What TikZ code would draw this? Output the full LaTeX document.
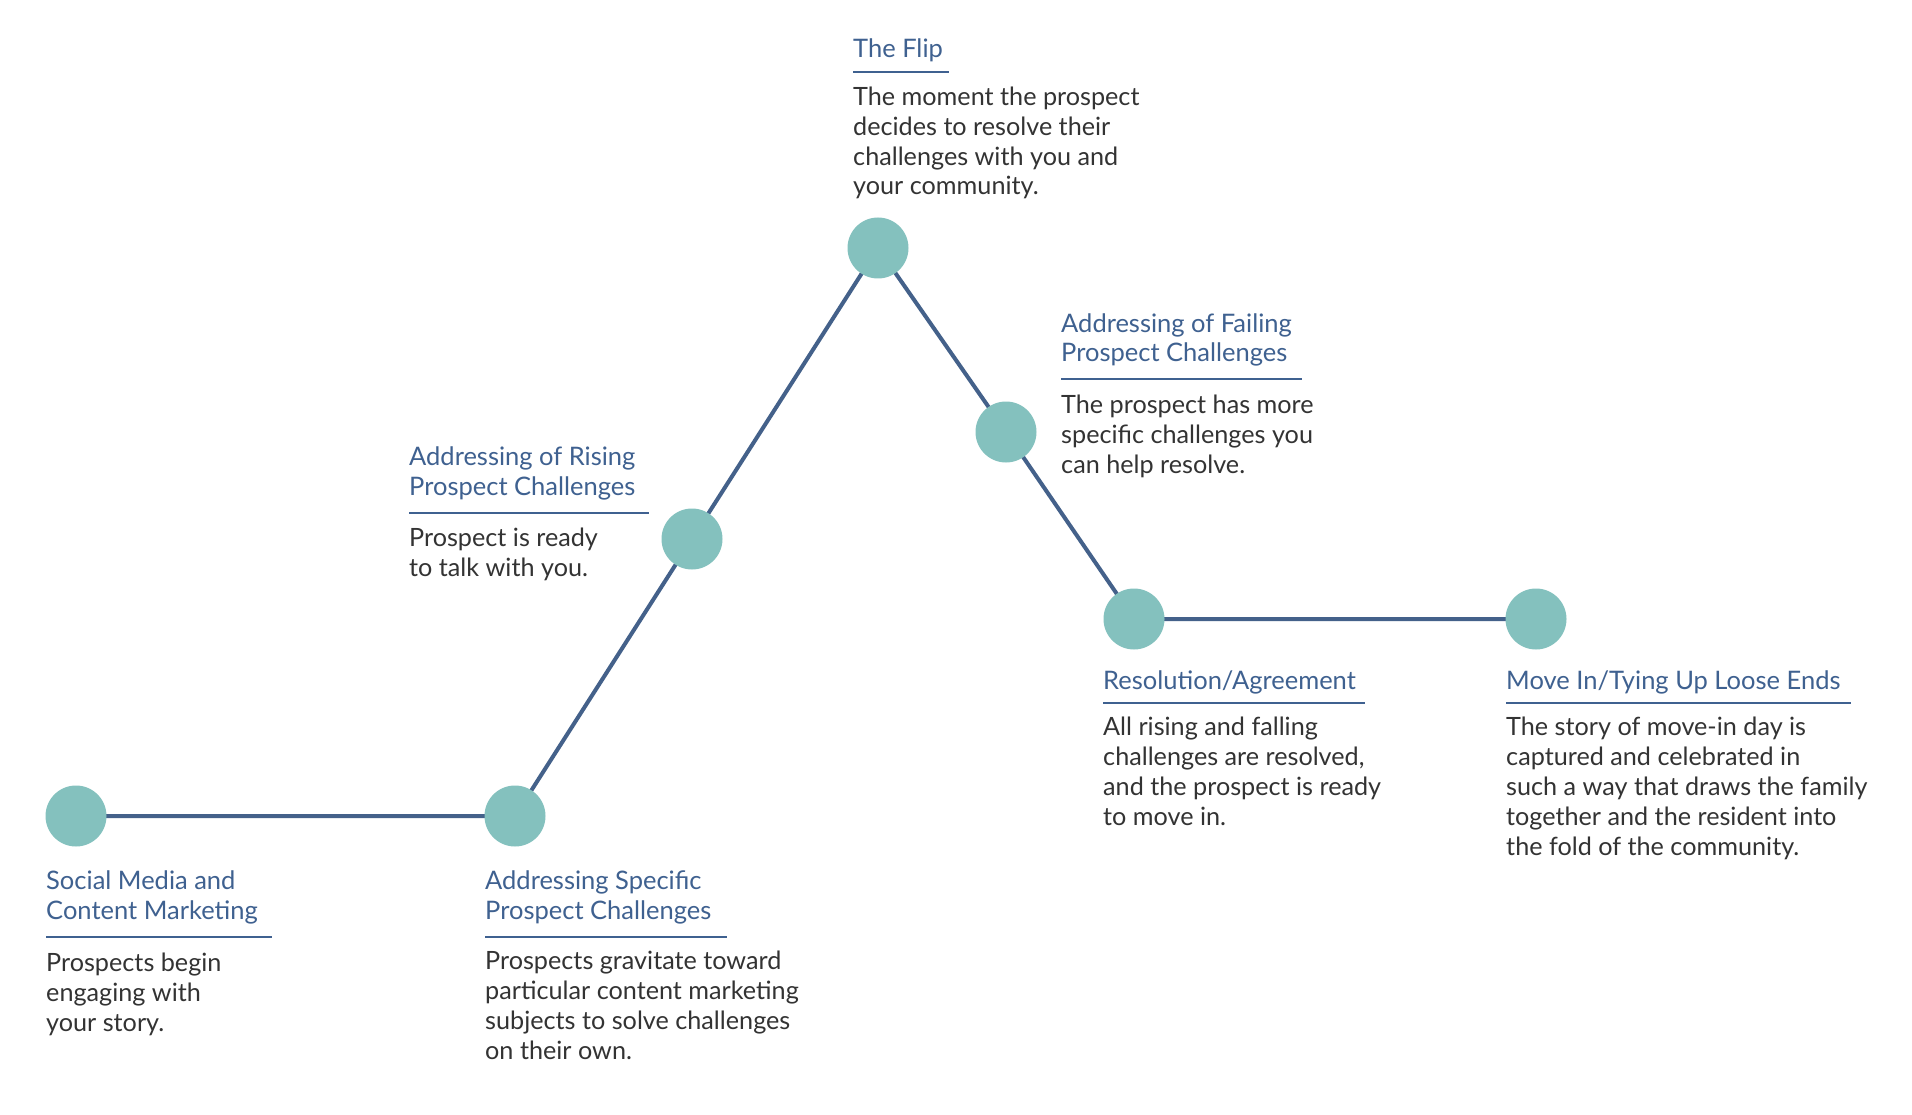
\documentclass[tikz,border=0pt]{standalone}
\usepackage{fontspec}
\setmainfont{Lato}
\usetikzlibrary{backgrounds}
\definecolor{dotc}{HTML}{84C1BE}
\definecolor{linec}{HTML}{44618A}
\definecolor{titlec}{HTML}{3F6190}
\definecolor{bodyc}{HTML}{333333}
\tikzset{
  dot/.style={circle,fill=dotc,draw=none,inner sep=0pt,minimum size=61pt},
  pathline/.style={draw=linec,line width=4pt},
  ttl/.style={anchor=base west,align=left,inner sep=0pt,text=titlec,font=\fontsize{25.5}{29.8}\selectfont},
  bdy/.style={anchor=base west,align=left,inner sep=0pt,text=bodyc,font=\fontsize{25.2}{29.8}\selectfont},
  uline/.style={draw=titlec,line width=2pt}
}
\begin{document}
\begin{tikzpicture}[x=1pt,y=-1pt]
\useasboundingbox (0,0) rectangle (1912,1115);
\node[dot] (c1) at (76,816) {};
\node[dot] (c2) at (515,816) {};
\node[dot] (c3) at (692,539) {};
\node[dot] (c4) at (878,248) {};
\node[dot] (c5) at (1006,432) {};
\node[dot] (c6) at (1134,619) {};
\node[dot] (c7) at (1536,619) {};
\begin{scope}[on background layer]
\fill[white] (0,0) rectangle (1912,1115);
\draw[pathline] (c1.center) -- (c2.center) -- (c3.center) -- (c4.center) -- (c5.center) -- (c6.center) -- (c7.center);
\end{scope}
% 1
\node[ttl] (t1) at (46,919) {Social Media and\\Content Marketing};
\draw[uline] (46,937) -- (272,937);
\node[bdy] (b1) at (46,1031) {Prospects begin\\engaging with\\your story.};
% 2
\node[ttl] (t2) at (485,919) {Addressing Specific\\Prospect Challenges};
\draw[uline] (485,937) -- (727,937);
\node[bdy] (b2) at (485,1059) {Prospects gravitate toward\\particular content marketing\\subjects to solve challenges\\on their own.};
% 3
\node[ttl] (t3) at (409,495) {Addressing of Rising\\Prospect Challenges};
\draw[uline] (409,513) -- (649,513);
\node[bdy] (b3) at (409,576) {Prospect is ready\\to talk with you.};
% 4
\node[ttl] (t4) at (853,58) {The Flip};
\draw[uline] (853,72) -- (949,72);
\node[bdy] (b4) at (853,195) {The moment the prospect\\decides to resolve their\\challenges with you and\\your community.};
% 5
\node[ttl] (t5) at (1061,362) {Addressing of Failing\\Prospect Challenges};
\draw[uline] (1061,379) -- (1302,379);
\node[bdy] (b5) at (1061,473) {The prospect has more\\specific challenges you\\can help resolve.};
% 6
\node[ttl] (t6) at (1103,689) {Resolution/Agreement};
\draw[uline] (1103,703) -- (1365,703);
\node[bdy] (b6) at (1103,825) {All rising and falling\\challenges are resolved,\\and the prospect is ready\\to move in.};
% 7
\node[ttl] (t7) at (1506,689) {Move In/Tying Up Loose Ends};
\draw[uline] (1506,703) -- (1851,703);
\node[bdy] (b7) at (1506,855) {The story of move-in day is\\captured and celebrated in\\such a way that draws the family\\together and the resident into\\the fold of the community.};
\end{tikzpicture}
\end{document}
